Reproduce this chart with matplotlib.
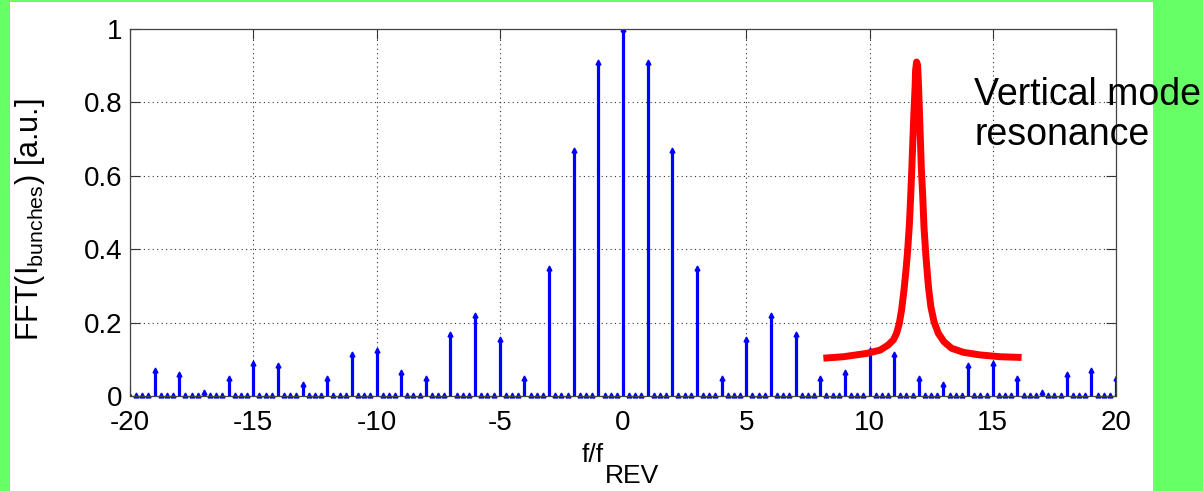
import numpy as np
import matplotlib.pyplot as plt
from matplotlib.patches import Rectangle

plt.rcParams['font.family'] = ['Liberation Sans', 'DejaVu Sans']
plt.rcParams['axes.unicode_minus'] = False

# harmonic amplitudes at integer f/f_REV, -20 .. 20
harm_x = np.arange(-20, 21)
harm_y = [0.0, 0.07, 0.06, 0.01, 0.05, 0.09, 0.085, 0.033, 0.05, 0.115,
          0.125, 0.065, 0.05, 0.17, 0.22, 0.155, 0.05, 0.35, 0.67, 0.91,
          1.0,
          0.91, 0.67, 0.35, 0.05, 0.155, 0.22, 0.17, 0.05, 0.065, 0.125,
          0.115, 0.05, 0.033, 0.085, 0.09, 0.05, 0.01, 0.06, 0.07, 0.05]

# samples between the harmonics (quarter steps) are ~0
sub_x = [x for x in np.arange(-20, 20.01, 0.25) if x % 1 != 0]
sub_y = [0.003] * len(sub_x)

# hand drawn resonance curve
res_x = [8.13, 8.94, 9.88, 10.43, 10.76, 10.97, 11.10, 11.21, 11.30, 11.40,
         11.48, 11.55, 11.62, 11.67, 11.72, 11.76, 11.80, 11.85, 11.87, 11.91,
         11.95, 11.98, 12.02, 12.06, 12.10, 12.16, 12.21, 12.29, 12.39, 12.49,
         12.62, 12.79, 13.02, 13.33, 13.81, 14.48, 15.29, 16.17]
res_y = [0.103, 0.107, 0.116, 0.125, 0.139, 0.153, 0.171, 0.198, 0.234, 0.289,
         0.343, 0.398, 0.470, 0.543, 0.625, 0.698, 0.770, 0.843, 0.888, 0.910,
         0.902, 0.861, 0.788, 0.707, 0.625, 0.543, 0.461, 0.380, 0.298, 0.243,
         0.202, 0.171, 0.148, 0.130, 0.119, 0.112, 0.107, 0.105]

W, H = 1203, 491
green = '#66ff66'
fig = plt.figure(figsize=(W / 100, H / 100), dpi=100, facecolor=green)
fig.patches.append(Rectangle((10 / W, 0), 1143 / W, 489.5 / H,
                             transform=fig.transFigure, facecolor='white',
                             edgecolor='none', zorder=-10))

ax = fig.add_axes([130 / W, 95 / H, 986 / W, 367 / H])

ml, sl, bl = ax.stem(harm_x, harm_y, linefmt='-', markerfmt='^', basefmt=' ')
plt.setp(sl, color='#0000ff', linewidth=2.3)
plt.setp(ml, color='#0000ff', markersize=3.5)
ax.plot(sub_x, sub_y, '^', color='#0000ff', markersize=3.5, clip_on=False)

ax.plot(res_x, res_y, color='#ff0000', linewidth=5,
        solid_joinstyle='round', solid_capstyle='butt')

ax.text(14.25, 0.765, 'Vertical mode\nresonance', fontsize=27,
        linespacing=1.15, ha='left', va='center', clip_on=False)

ax.set_xlim(-20, 20)
ax.set_ylim(0, 1)
ax.set_xticks(range(-20, 21, 5))
ax.set_yticks([0, 0.2, 0.4, 0.6, 0.8, 1])
ax.set_yticklabels(['0', '0.2', '0.4', '0.6', '0.8', '1'])
ax.tick_params(direction='in', length=7, width=0.8, labelsize=20,
               top=True, right=True, pad=5.5, color='#333333')
ax.tick_params(axis='x', pad=10)
ax.grid(True, color='#333333', linestyle=(0, (1, 3)), linewidth=0.8)
ax.set_axisbelow(True)
for s in ax.spines.values():
    s.set_color('#444444')
    s.set_linewidth(0.9)

# axis labels (MATLAB style, subscript REV at full size)
fig.text(582 / W, 1 - 462 / H, 'f/f', fontsize=19, ha='left', va='baseline')
fig.text(605 / W, 1 - 483 / H, 'REV', fontsize=19, ha='left', va='baseline')
fig.text(13 / W, 1 - 220 / H, 'FFT(I$_\\mathregular{bunches}$) [a.u.]',
         fontsize=22, rotation=90, ha='left', va='center')

fig.savefig('out.png', dpi=100, facecolor=green)
